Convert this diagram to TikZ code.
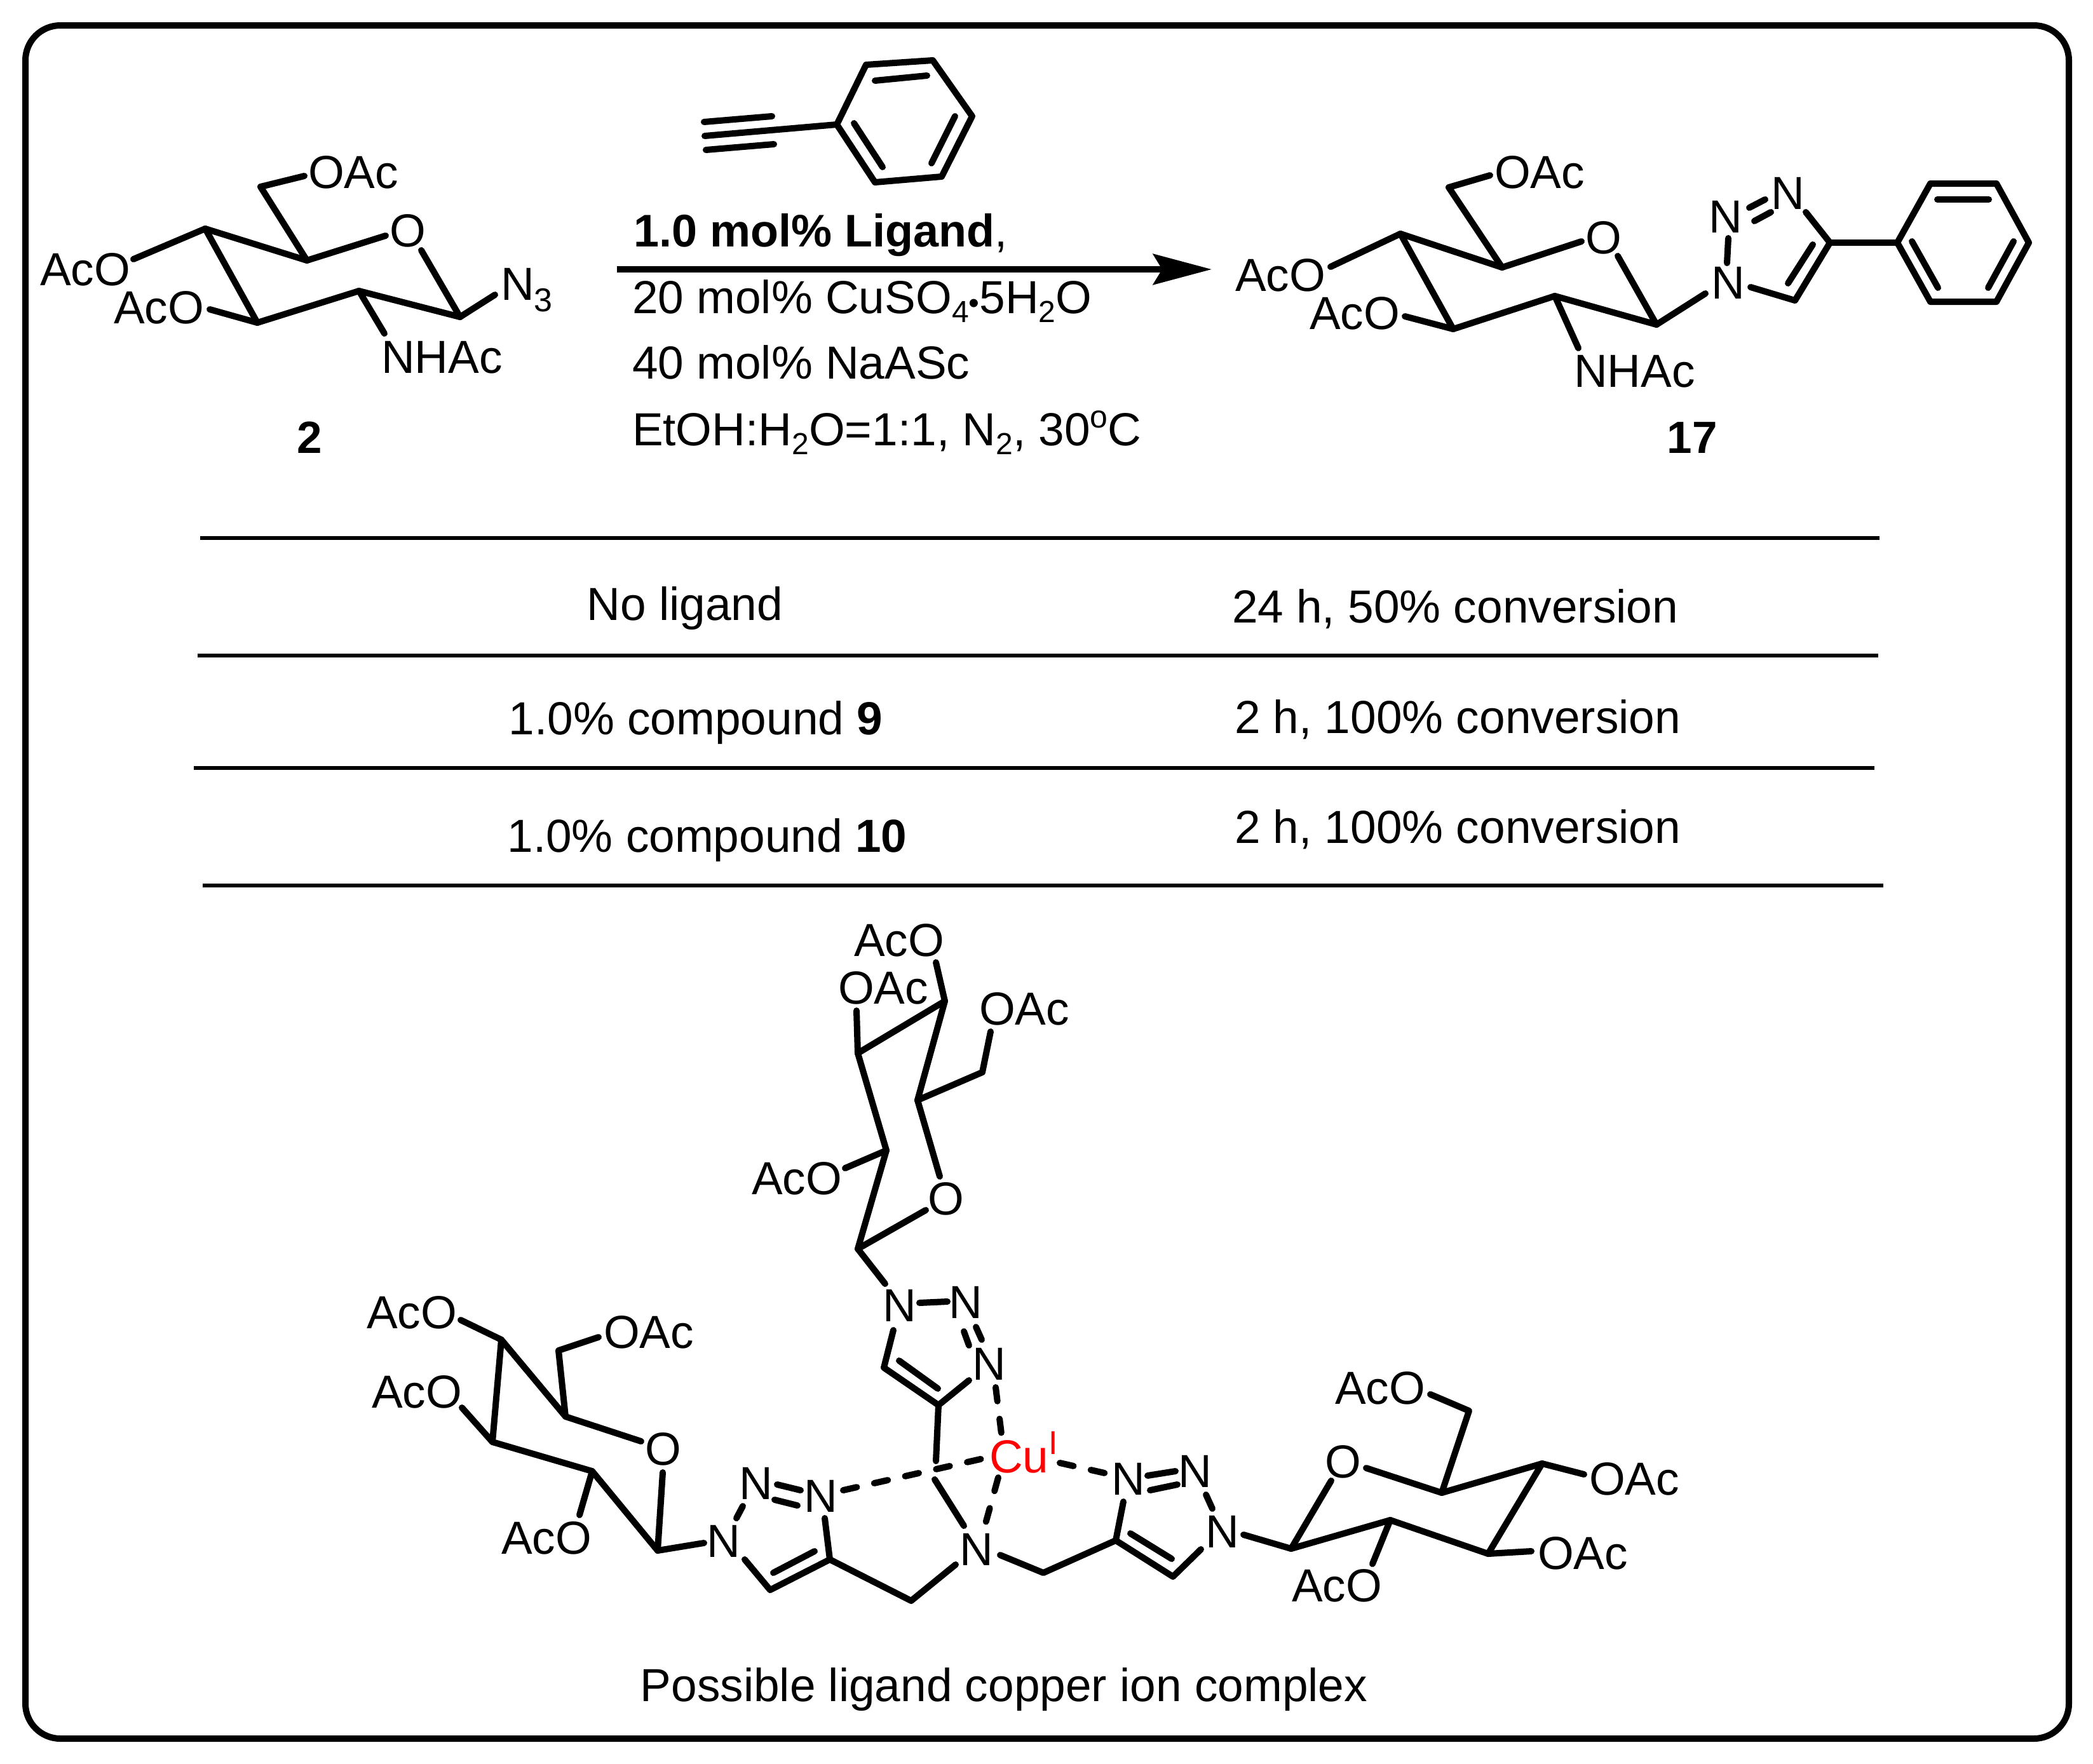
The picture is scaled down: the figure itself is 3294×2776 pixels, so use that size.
\documentclass[tikz,border=0pt]{standalone}
\usepackage{fontspec}
\setmainfont{Liberation Sans}
\usetikzlibrary{arrows.meta}
\newcommand{\sbs}[1]{\raisebox{-14pt}{\fontsize{48}{48}\selectfont #1}}
\newcommand{\sps}[1]{\raisebox{28pt}{\fontsize{50}{50}\selectfont #1}}
\newcommand{\pts}[1]{\foreach \n/\x/\y in {#1}{\coordinate (\n) at (\x,\y);}}
\tikzset{
  x=1pt,y=-1pt,
  bond/.style={line width=10pt,line cap=round,line join=round,black},
  dbond/.style={bond,dash pattern=on 22pt off 28pt},
  rulerow/.style={line width=6pt,black},
  chem/.style={inner sep=0pt,outer sep=0pt,font=\fontsize{73}{87}\selectfont,anchor=base west},
  chemc/.style={chem,anchor=base},
  celltext/.style={chem,anchor=base},
  boldc/.style={chem,anchor=base,font=\fontsize{71}{85}\selectfont\bfseries},
}
\begin{document}
\begin{tikzpicture}
\useasboundingbox (0,0) rectangle (3294,2776);
\fill[white] (0,0) rectangle (3294,2776);
\draw[line width=10pt,rounded corners=55pt] (40,40) rectangle (3256,2737);

% ---------- compound 2
\pts{a1/323/360,a2/483/410,a3/607/371,a4/663/394,a5/724/499,a6/565/458,a7/405/508,a8/410/294,a9/479/277,a10/210/408,a11/330/487,a12/779/464,a13/605/525}
\draw[bond] (a9)--(a8)--(a2);
\draw[bond] (a10)--(a1)--(a2)--(a3);
\draw[bond] (a1)--(a7)--(a6)--(a5)--(a4);
\draw[bond] (a11)--(a7);
\draw[bond] (a6)--(a13);
\draw[bond] (a5)--(a12);
\node[chem] (l1) at (485,296) {OAc};
\node[chem] (l2) at (63,449) {AcO};
\node[chem] (l3) at (179,509) {AcO};
\node[chemc] (l4) at (642,388) {O};
\node[chem] (l5) at (788,472) {N\raisebox{-18pt}{\fontsize{52}{52}\selectfont 3}};
\node[chem] (l6) at (600,587) {NHAc};
\node[boldc] (l7) at (487.5,713) {2};

% ---------- phenylacetylene
\pts{p1/1317/196,p2/1363/102,p3/1468/95,p4/1530/183,p5/1482/278,p6/1377/287,p7/1109/214,p8/1108/192,p9/1215/183,p10/1111/236,p11/1218/227,p12/1377/127,p13/1459/119,p14/1344/194,p15/1389/263,p16/1503/183,p17/1466/257}
\draw[bond] (p1)--(p2)--(p3)--(p4)--(p5)--(p6)--cycle;
\draw[bond] (p7)--(p1);
\draw[bond] (p8)--(p9);
\draw[bond] (p10)--(p11);
\draw[bond] (p12)--(p13);
\draw[bond] (p14)--(p15);
\draw[bond] (p16)--(p17);

% ---------- arrow and conditions
\coordinate (arA) at (971,424);
\coordinate (arB) at (1907,424);
\draw[line width=10.5pt,-{Stealth[length=92pt,width=48pt,inset=14pt]}] (arA)--(arB);
\node[chem] (r1) at (997,388) {\fontsize{72}{86}\selectfont\bfseries 1.0 mol\% Ligand\mdseries,};
\node[chem] (r2) at (995,493) {20 mol\% CuSO\sbs{4}{\fontsize{48}{48}\selectfont •}5H\sbs{2}O};
\node[chem] (r3) at (995,596) {40 mol\% NaASc};
\node[chem] (r4) at (995,701) {EtOH:H\sbs{2}O=1:1, N\sbs{2}, 30\sps{o}C};

% ---------- compound 17
\pts{b1/2204/368,b2/2364/421,b3/2489/380,b4/2546/403,b5/2607/511,b6/2447/466,b7/2287/518,b8/2280/295,b9/2345/276,b10/2094/420,b11/2211/498,b12/2684/462,b13/2484/548}
\draw[bond] (b9)--(b8)--(b2);
\draw[bond] (b10)--(b1)--(b2)--(b3);
\draw[bond] (b1)--(b7)--(b6)--(b5)--(b4);
\draw[bond] (b11)--(b7);
\draw[bond] (b6)--(b13);
\draw[bond] (b5)--(b12);
\pts{t1/2720/375,t2/2718/414,t3/2753/327,t4/2778/314,t5/2761/348,t6/2787/334,t7/2842/334,t8/2880/382,t9/2825/473,t10/2853/385,t11/2814/446,t12/2755/452,t13/2986/382,t14/3038/289,t15/3142/289,t16/3193/382,t17/3142/475,t18/3038/475,t19/3049/314,t20/3130/314,t21/3009/380,t22/3050/453,t23/3169/380,t24/3129/453}
\draw[bond] (t1)--(t2);
\draw[bond] (t3)--(t4);
\draw[bond] (t5)--(t6);
\draw[bond] (t7)--(t8)--(t9)--(t12);
\draw[bond] (t10)--(t11);
\draw[bond] (t8)--(t13);
\draw[bond] (t13)--(t14)--(t15)--(t16)--(t17)--(t18)--cycle;
\draw[bond] (t19)--(t20);
\draw[bond] (t21)--(t22);
\draw[bond] (t23)--(t24);
\node[chem] (m1) at (2352,296) {OAc};
\node[chem] (m2) at (1944,458) {AcO};
\node[chem] (m3) at (2061,518) {AcO};
\node[chemc] (m4) at (2524,399) {O};
\node[chemc] (m5) at (2720,470) {N};
\node[chemc] (m6) at (2716,366) {N};
\node[chemc] (m7) at (2814,329) {N};
\node[chem] (m8) at (2477,609) {NHAc};
\node[boldc] (m9) at (2663,713) {17};

% ---------- table
\pts{h1/315/847,h2/2958/847,h3/311/1032,h4/2956/1032,h5/305/1209,h6/2950/1209,h7/319/1394,h8/2964/1394}
\draw[rulerow] (h1)--(h2);
\draw[rulerow] (h3)--(h4);
\draw[rulerow] (h5)--(h6);
\draw[rulerow] (h7)--(h8);
\node[celltext] (c1) at (1078,976) {No ligand};
\node[celltext] (c2) at (2290,980) {24 h, 50\% conversion};
\node[celltext] (c3) at (1095,1156) {1.0\% compound \textbf{9}};
\node[celltext] (c4) at (2294,1154) {2 h, 100\% conversion};
\node[celltext] (c5) at (1113,1341) {1.0\% compound \textbf{10}};
\node[celltext] (c6) at (2294,1327) {2 h, 100\% conversion};
\node[celltext] (c7) at (1580,2678) {Possible ligand copper ion complex};

% ---------- top sugar
\pts{s1/1487/1576,s2/1350/1658,s3/1395/1811,s4/1350/1966,s5/1444/1732,s6/1546/1688,s7/1559/1624,s8/1473/1515,s9/1348/1591,s10/1330/1839,s11/1479/1852,s12/1457/1905,s13/1393/2021}
\draw[bond] (s9)--(s2)--(s3)--(s4)--(s12);
\draw[bond] (s8)--(s1)--(s2);
\draw[bond] (s1)--(s5)--(s11);
\draw[bond] (s5)--(s6)--(s7);
\draw[bond] (s10)--(s3);
\draw[bond] (s4)--(s13);
\node[chem] (n1) at (1541,1613) {OAc};
\node[chem] (n2) at (1344,1505) {AcO};
\node[chem] (n3) at (1319,1580) {OAc};
\node[chem] (n4) at (1183,1880) {AcO};
\node[chemc] (n5) at (1489,1912) {O};
% top triazole
\pts{u1/1447/2051,u2/1491/2049,u3/1536/2089,u4/1545/2109,u5/1517/2096,u6/1525/2118,u7/1406/2094,u8/1391/2153,u9/1477/2212,u10/1415/2142,u11/1476/2186,u12/1525/2173,u13/1473/2300}
\draw[bond] (u1)--(u2);
\draw[bond] (u3)--(u4);
\draw[bond] (u5)--(u6);
\draw[bond] (u7)--(u8)--(u9)--(u12);
\draw[bond] (u10)--(u11);
\draw[bond] (u9)--(u13);
\node[chemc] (n6) at (1416,2080) {N};
\node[chemc] (n7) at (1520,2075) {N};
\node[chemc] (n8) at (1557,2172) {N};

% ---------- left sugar
\pts{d1/789/2109,d2/890/2230,d3/879/2126,d4/942/2105,d5/725/2078,d6/727/2216,d7/775/2270,d8/932/2316,d9/1035/2441,d10/1009/2269,d11/1043/2318,d12/912/2385,d13/1108/2429}
\draw[bond] (d5)--(d1)--(d2)--(d10);
\draw[bond] (d2)--(d3)--(d4);
\draw[bond] (d1)--(d7)--(d8)--(d9)--(d11);
\draw[bond] (d6)--(d7);
\draw[bond] (d8)--(d12);
\draw[bond] (d9)--(d13);
\node[chem] (o1) at (577,2091) {AcO};
\node[chem] (o2) at (950,2122) {OAc};
\node[chem] (o3) at (585,2216) {AcO};
\node[chemc] (o4) at (1044,2306) {O};
\node[chem] (o5) at (789,2446) {AcO};
% left triazole
\pts{e1/1169/2371,e2/1159/2390,e3/1223/2337,e4/1260/2346,e5/1219/2361,e6/1255/2370,e7/1298/2390,e8/1306/2455,e9/1212/2503,e10/1172/2455,e11/1282/2442,e12/1217/2476,e13/1434/2520,e14/1504/2463}
\draw[bond] (e1)--(e2);
\draw[bond] (e3)--(e4);
\draw[bond] (e5)--(e6);
\draw[bond] (e7)--(e8)--(e9)--(e10);
\draw[bond] (e11)--(e12);
\draw[bond] (e8)--(e13)--(e14);
\node[chemc] (o6) at (1139,2451) {N};
\node[chemc] (o7) at (1190,2360) {N};
\node[chemc] (o8) at (1292,2380) {N};

% ---------- centre
\node[chemc] (q1) at (1537,2464) {N};
\node[chem] (q2) at (1557,2318) {\textcolor{red}{Cu\raisebox{29pt}{\fontsize{52}{52}\selectfont I}}};
\pts{f1/1327/2346,f2/1552/2295,f3/1471/2329,f4/1517/2402,f5/1571/2326,f6/1550/2402,f7/1567/2184,f8/1576/2257,f9/1668/2303,f10/1743/2320}
\draw[dbond] (f1)--(f2);
\draw[bond] (f3)--(f4);
\draw[dbond] (f5)--(f6);
\draw[dbond] (f7)--(f8);
\draw[dbond] (f9)--(f10);

% ---------- right triazole
\pts{g1/1806/2323,g2/1850/2316,g3/1810/2346,g4/1853/2337,g5/1898/2353,g6/1908/2375,g7/1768/2364,g8/1756/2425,g9/1846/2482,g10/1779/2414,g11/1844/2454,g12/1890/2439,g13/1642/2476,g14/1574/2448}
\draw[bond] (g1)--(g2);
\draw[bond] (g3)--(g4);
\draw[bond] (g5)--(g6);
\draw[bond] (g7)--(g8)--(g9)--(g12);
\draw[bond] (g10)--(g11);
\draw[bond] (g8)--(g13)--(g14);
\node[chemc] (v1) at (1776,2353) {N};
\node[chemc] (v2) at (1881,2341) {N};
\node[chemc] (v3) at (1924,2436) {N};

% ---------- right sugar
\pts{k1/1957/2416,k2/2032/2438,k3/2188/2393,k4/2342/2446,k5/2427/2304,k6/2269/2350,k7/2095/2331,k8/2150/2311,k9/2312/2221,k10/2251/2195,k11/2493/2321,k12/2410/2442,k13/2160/2462}
\draw[bond] (k1)--(k2)--(k3)--(k4)--(k5)--(k6)--(k8);
\draw[bond] (k2)--(k7);
\draw[bond] (k6)--(k9)--(k10);
\draw[bond] (k5)--(k11);
\draw[bond] (k4)--(k12);
\draw[bond] (k3)--(k13);
\node[chemc] (w0) at (2114,2326) {O};
\node[chem] (w1) at (2101,2210) {AcO};
\node[chem] (w2) at (2501,2353) {OAc};
\node[chem] (w3) at (2420,2470) {OAc};
\node[chem] (w4) at (2033,2521) {AcO};
\end{tikzpicture}
\end{document}
